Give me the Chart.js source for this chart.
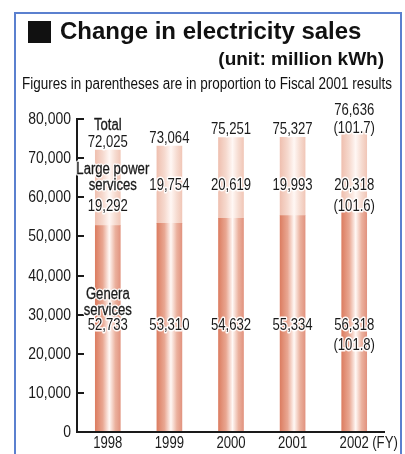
<!DOCTYPE html>
<html><head><meta charset="utf-8">
<script src="https://cdn.jsdelivr.net/npm/chart.js@4"></script>
<style>html,body{margin:0;padding:0;background:#fff;}canvas{display:block}</style>
</head><body>
<canvas id="c" width="405" height="454"></canvas>
<script>
// ---- data ----
const years = ['1998', '1999', '2000', '2001', '2002'];
const generalServices = [52733, 53310, 54632, 55334, 56318];
const largePower = [19292, 19754, 20619, 19993, 20318];
const totals = [72025, 73064, 75251, 75327, 76636];
const totalRatio = [null, null, null, null, 101.7];
const largeRatio = [null, null, null, null, 101.6];
const generalRatio = [null, null, null, null, 101.8];
const yTicksMax = 80000;
const yTickStep = 10000;

const WIDE = "'Liberation Sans',Arial,Helvetica,sans-serif";
const SQUEEZE = 0.82;
const fmt = v => Number(v).toLocaleString('en-US');

const lowerStops = [[0, '#dc7e62'], [0.3, '#e9a792'], [0.56, '#fff8f5'], [0.8, '#ebb19e'], [1, '#e29480']];
const upperStops = [[0, '#efc0b0'], [0.3, '#f6d9ce'], [0.56, '#fff7f4'], [0.8, '#f6dbd0'], [1, '#f1c7b8']];

function barGrad(context, stops) {
  const chart = context.chart;
  const xs = chart.scales && chart.scales.x;
  if (!chart.chartArea || !xs) return stops[0][1];
  const cx = xs.getPixelForValue(context.dataIndex);
  const half = 12.5;
  const g = chart.ctx.createLinearGradient(cx - half, 0, cx + half, 0);
  stops.forEach(s => g.addColorStop(s[0], s[1]));
  return g;
}

// condensed text (Helvetica-Condensed look) drawn by horizontal squeeze
function ntxt(ctx, s, x, y, size, align, halo, heavy) {
  ctx.save();
  ctx.translate(x, y);
  ctx.scale(SQUEEZE, 1);
  ctx.font = size + 'px ' + WIDE;
  ctx.textAlign = align || 'center';
  ctx.textBaseline = 'middle';
  if (halo) {
    ctx.lineWidth = 3;
    ctx.strokeStyle = 'rgba(255,255,255,0.95)';
    ctx.lineJoin = 'round';
    ctx.strokeText(s, 0, 0);
  }
  ctx.fillStyle = '#1a1a1a';
  ctx.fillText(s, 0, 0);
  if (heavy) {
    ctx.lineWidth = 0.3;
    ctx.strokeStyle = '#1a1a1a';
    ctx.strokeText(s, 0, 0);
  }
  ctx.restore();
}

const decor = {
  id: 'decor',
  beforeDraw(chart) {
    const ctx = chart.ctx;
    ctx.save();
    ctx.fillStyle = '#fff';
    ctx.fillRect(0, 0, chart.width, chart.height);
    ctx.restore();
  },
  afterDraw(chart) {
    const ctx = chart.ctx;
    const xs = chart.scales.x, ys = chart.scales.y;
    const ca = chart.chartArea;
    // frame
    ctx.save();
    ctx.strokeStyle = '#5b80cf';
    ctx.lineWidth = 2;
    ctx.beginPath();
    ctx.moveTo(15, 460); ctx.lineTo(15, 13); ctx.lineTo(401, 13); ctx.lineTo(401, 460);
    ctx.stroke();
    ctx.restore();
    // title
    ctx.save();
    ctx.fillStyle = '#111';
    ctx.fillRect(28, 21, 23, 22);
    ctx.font = 'bold 24px ' + WIDE;
    ctx.textBaseline = 'alphabetic';
    ctx.textAlign = 'left';
    ctx.fillText('Change in electricity sales', 60, 39);
    ctx.font = 'bold 19px ' + WIDE;
    ctx.textAlign = 'right';
    ctx.fillText('(unit: million kWh)', 384, 65);
    const sub = 'Figures in parentheses are in proportion to Fiscal 2001 results';
    ctx.font = '16px ' + WIDE;
    const w = ctx.measureText(sub).width;
    ctx.translate(22, 89);
    ctx.scale(370 / w, 1);
    ctx.textAlign = 'left';
    ctx.fillText(sub, 0, 0);
    ctx.restore();

    // axes
    ctx.save();
    ctx.strokeStyle = '#1a1a1a';
    ctx.lineWidth = 2;
    const x0 = ca.left, y0 = ys.getPixelForValue(0), yTop = ys.getPixelForValue(yTicksMax);
    ctx.beginPath();
    ctx.moveTo(x0, yTop - 1); ctx.lineTo(x0, y0);
    ctx.lineTo(ca.right, y0);
    ctx.stroke();
    ys.ticks.forEach(t => {
      const py = Math.round(ys.getPixelForValue(t.value));
      if (t.value !== 0) {
        ctx.beginPath();
        ctx.moveTo(x0, py); ctx.lineTo(x0 + 7, py);
        ctx.stroke();
      }
      ntxt(ctx, fmt(t.value), x0 - 6, py, 17, 'right', false);
    });
    ctx.restore();
    xs.ticks.forEach((t, i) => {
      ntxt(ctx, years[i], xs.getPixelForValue(i), y0 + 12, 16, 'center', false);
    });
    ntxt(ctx, '(FY)', 385, y0 + 12, 16, 'center', false);

    // value labels
    const S = 16;
    const meta = chart.getDatasetMeta(1);
    const largeRowY = ys.getPixelForValue(63000);
    const generalRowY = ys.getPixelForValue(27100);
    years.forEach((yr, i) => {
      const cx = xs.getPixelForValue(i);
      const top = meta.data[i].y;
      if (totalRatio[i] != null) {
        ntxt(ctx, '(' + totalRatio[i].toFixed(1) + ')', cx, top - 4, S, 'center', true);
        ntxt(ctx, fmt(totals[i]), cx, top - 22, S, 'center', true);
      } else {
        ntxt(ctx, fmt(totals[i]), cx, top - 8, S, 'center', true);
      }
      if (i === 0) {
        ntxt(ctx, 'Total', cx, top - 25, S, 'center', true, true);
        ntxt(ctx, 'Large power', cx + 5, largeRowY - 16, S, 'center', true, true);
        ntxt(ctx, 'services', cx + 5, largeRowY, S, 'center', true, true);
        ntxt(ctx, fmt(largePower[i]), cx, largeRowY + 21, S, 'center', true);
        ntxt(ctx, 'Genera', cx, generalRowY - 31, S, 'center', true, true);
        ntxt(ctx, 'services', cx, generalRowY - 15, S, 'center', true, true);
      } else {
        ntxt(ctx, fmt(largePower[i]), cx, largeRowY, S, 'center', true);
      }
      if (largeRatio[i] != null) ntxt(ctx, '(' + largeRatio[i].toFixed(1) + ')', cx, largeRowY + 21, S, 'center', true);
      ntxt(ctx, fmt(generalServices[i]), cx, generalRowY, S, 'center', true);
      if (generalRatio[i] != null) ntxt(ctx, '(' + generalRatio[i].toFixed(1) + ')', cx, generalRowY + 20, S, 'center', true);
    });
  }
};

new Chart(document.getElementById('c'), {
  type: 'bar',
  data: {
    labels: years,
    datasets: [
      { label: 'General services', data: generalServices, backgroundColor: c => barGrad(c, lowerStops), stack: 's' },
      { label: 'Large power services', data: largePower, backgroundColor: c => barGrad(c, upperStops), stack: 's' }
    ]
  },
  options: {
    responsive: false,
    animation: false,
    devicePixelRatio: 1,
    layout: { padding: { left: 0, right: 20, top: 119, bottom: 0 } },
    plugins: { legend: { display: false }, tooltip: { enabled: false }, title: { display: false } },
    datasets: { bar: { barThickness: 25, borderWidth: 0 } },
    scales: {
      x: {
        stacked: true,
        grid: { display: false, drawTicks: false },
        border: { display: false },
        ticks: { display: false },
        afterFit: s => { s.height = 22; }
      },
      y: {
        stacked: true, min: 0, max: yTicksMax,
        grid: { display: false, drawTicks: false },
        border: { display: false },
        ticks: { display: false, stepSize: yTickStep },
        afterFit: s => { s.width = 77; }
      }
    }
  },
  plugins: [decor]
});
</script>
</body></html>
